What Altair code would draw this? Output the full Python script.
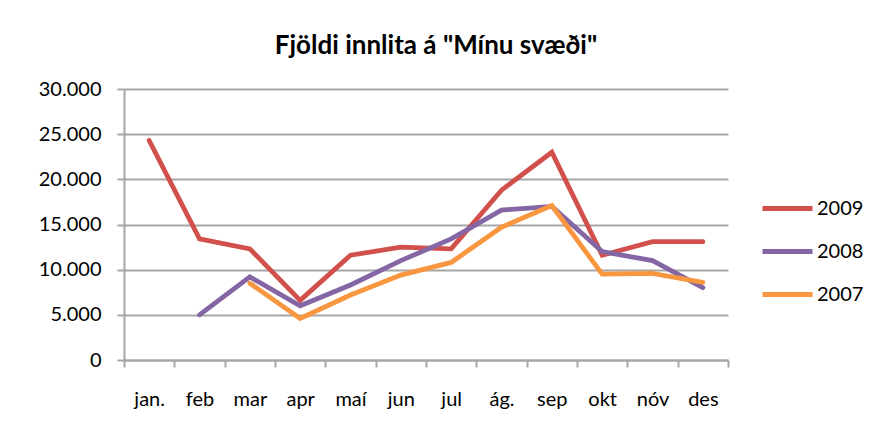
import altair as alt
import pandas as pd

months = ["jan.", "feb", "mar", "apr", "maí", "jun", "jul", "ág.", "sep", "okt", "nóv", "des"]
years = ["2009", "2008", "2007"]
v2009 = [24300, 13400, 12300, 6600, 11600, 12500, 12300, 18800, 23000, 11600, 13100, 13100]
v2008 = [None, 5000, 9200, 6000, 8300, 11000, 13400, 16600, 17000, 12000, 11000, 8000]
v2007 = [None, None, 8500, 4600, 7200, 9400, 10800, 14700, 17100, 9500, 9600, 8600]
colors = ["#D1504C", "#8566A4", "#F99640"]
y_ticks = [0, 5000, 10000, 15000, 20000, 25000, 30000]
title_text = 'Fjöldi innlita á "Mínu svæði"'

rows = []
for yr, vals in zip(years, [v2009, v2008, v2007]):
    for m, v in zip(months, vals):
        if v is not None:
            rows.append({"month": m, "year": yr, "value": v})
df = pd.DataFrame(rows)

FONT = "Lato, sans-serif"
GRAY = "#A6A6A6"

chart = alt.Chart(df).mark_line(strokeWidth=4.8, strokeCap="round").encode(
    x=alt.X("month:N", sort=months, bandPosition=0.5,
            scale=alt.Scale(type="band", paddingInner=0, paddingOuter=0),
            axis=alt.Axis(title=None, labelAngle=0, tickBand="extent", grid=False,
                          labelFontSize=20, labelFont=FONT, labelColor="#000000",
                          labelPadding=22, tickSize=7, tickColor=GRAY, tickWidth=2,
                          domainColor=GRAY, domainWidth=2)),
    y=alt.Y("value:Q", scale=alt.Scale(domain=[0, 30000], nice=False),
            axis=alt.Axis(title=None, values=y_ticks,
                          labelExpr="replace(format(datum.value, ','), ',', '.')",
                          labelFontSize=20, labelFont=FONT, labelColor="#000000",
                          labelPadding=16, tickSize=7, tickColor=GRAY, tickWidth=2,
                          domainColor=GRAY, domainWidth=2,
                          grid=True, gridColor=GRAY, gridWidth=2)),
    color=alt.Color("year:N", scale=alt.Scale(domain=years, range=colors),
                    legend=alt.Legend(title=None, orient="none", legendX=636, legendY=92,
                                      symbolType="stroke", symbolSize=2500,
                                      symbolStrokeWidth=5, labelFontSize=20,
                                      labelFont=FONT, labelColor="#000000",
                                      labelOffset=2, rowPadding=5)),
).properties(
    width=604, height=271,
    title=alt.TitleParams(title_text, fontSize=26, font=FONT, fontWeight="bold",
                          color="#000000", anchor="middle", dx=10, offset=20),
    autosize=alt.AutoSizeParams(type="none"),
    padding={"left": 116, "top": 81, "right": 157, "bottom": 70},
).configure_view(stroke="transparent")

chart.save("out.html", embed_options={"renderer": "svg", "actions": False})
